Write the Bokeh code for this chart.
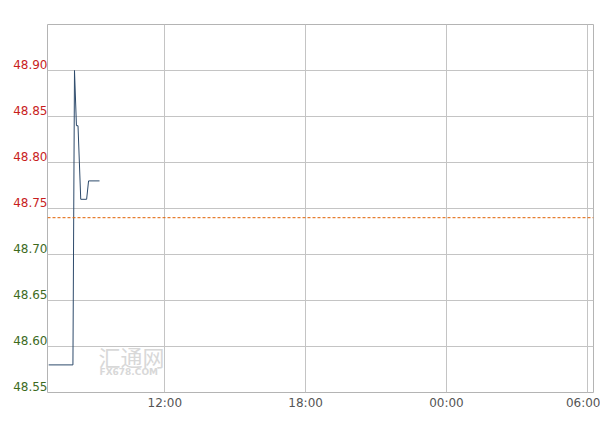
import pandas as pd
from bokeh.plotting import figure
from bokeh.layouts import row
from bokeh.models import (Range1d, FixedTicker, DatetimeTickFormatter, Span,
                          ColumnDataSource, Label)
from bokeh.core.properties import value
from bokeh.embed import file_html
from bokeh.resources import INLINE

# ---- data ----
day = "2017-01-02"
next_day = "2017-01-03"
times = ["07:03", "08:05", "08:09", "08:14", "08:18", "08:25", "08:40", "08:45", "09:13"]
prices = [48.58, 48.58, 48.90, 48.84, 48.84, 48.76, 48.76, 48.78, 48.78]
prev_close = 48.74
y_ticks = [48.55, 48.60, 48.65, 48.70, 48.75, 48.80, 48.85, 48.90]
y_range = [48.55, 48.95]
x_ticks = [day + " 12:00", day + " 18:00", next_day + " 00:00", next_day + " 06:00"]
x_range = [day + " 07:00", next_day + " 06:16"]

ts = [pd.Timestamp(day + " " + t) for t in times]
def ms(s):
    return pd.Timestamp(s).value / 1e6

x0 = ms(x_range[0])
x1 = ms(x_range[1])
yr = Range1d(*y_range)

TOP, BOTTOM, LEFT, RIGHT = 24, 30, 47, 7
W, H = 600, 422

# ---- left label column (per-label colour) ----
lab = figure(width=LEFT, height=H, x_range=Range1d(0, 1), y_range=yr,
             x_axis_location=None, y_axis_location=None,
             output_backend="svg", toolbar_location=None,
             min_border_left=0, min_border_right=0, min_border_top=TOP, min_border_bottom=BOTTOM)
lab.outline_line_color = None
lab.xgrid.visible = False
lab.ygrid.visible = False
lab_src = ColumnDataSource(dict(
    x=[1] * len(y_ticks),
    y=y_ticks,
    text=["%.2f" % v for v in y_ticks],
    color=["#c81e1e" if v > prev_close else "#3d6b1f" for v in y_ticks],
))
lab.text(x="x", y="y", text="text", source=lab_src, text_color="color",
         text_align="right", text_baseline="bottom", y_offset=-2, x_offset=0,
         text_font=value("DejaVu Sans"), text_font_size="12px")

# ---- main chart ----
p = figure(width=W - LEFT, height=H, x_axis_type="datetime",
           x_range=Range1d(x0, x1), y_range=yr,
           output_backend="svg", toolbar_location=None,
           min_border_left=0, min_border_right=RIGHT, min_border_top=TOP, min_border_bottom=BOTTOM)
p.background_fill_color = "white"
p.border_fill_color = "white"
p.outline_line_color = "#b4b4b4"
p.outline_line_width = 1

p.xaxis.ticker = FixedTicker(ticks=[ms(t) for t in x_ticks])
fmt = "%H:%M"
p.xaxis.formatter = DatetimeTickFormatter(microseconds=fmt, milliseconds=fmt, seconds=fmt,
                                          minsec=fmt, minutes=fmt, hourmin=fmt, hours=fmt,
                                          days=fmt, months=fmt, years=fmt)
p.xaxis.axis_line_color = None
p.xaxis.major_tick_line_color = None
p.xaxis.minor_tick_line_color = None
p.xaxis.major_tick_out = 0
p.xaxis.major_tick_in = 0
p.xaxis.major_label_standoff = 3
p.xaxis.major_label_text_font = "DejaVu Sans"
p.xaxis.major_label_text_font_size = "12px"
p.xaxis.major_label_text_color = "#555555"
p.xgrid.ticker = FixedTicker(ticks=[ms(t) for t in x_ticks])
p.xgrid.grid_line_color = "#c4c4c4"

p.yaxis.visible = False
p.ygrid.ticker = FixedTicker(ticks=y_ticks)
p.ygrid.grid_line_color = "#c4c4c4"

# watermark
p.add_layout(Label(x=x0, y=y_range[0], x_offset=51, y_offset=37, text="汇通网",
                   text_font="Noto Sans CJK SC", text_font_size="22px",
                   text_color="#d8d8d8", text_baseline="alphabetic"))
p.add_layout(Label(x=x0, y=y_range[0], x_offset=52, y_offset=21, text="FX678.COM",
                   text_font="DejaVu Sans", text_font_size="9px", text_font_style="bold",
                   text_color="#d8d8d8", text_baseline="alphabetic"))

# previous close
p.add_layout(Span(location=prev_close, dimension="width", line_color="#e06000",
                  line_width=1, line_dash="3 2"))

# price line
p.line(ts, prices, line_color="#2d4a6b", line_width=1)

layout = row(lab, p, spacing=0)
open("out.html", "w").write(file_html(layout, INLINE))
